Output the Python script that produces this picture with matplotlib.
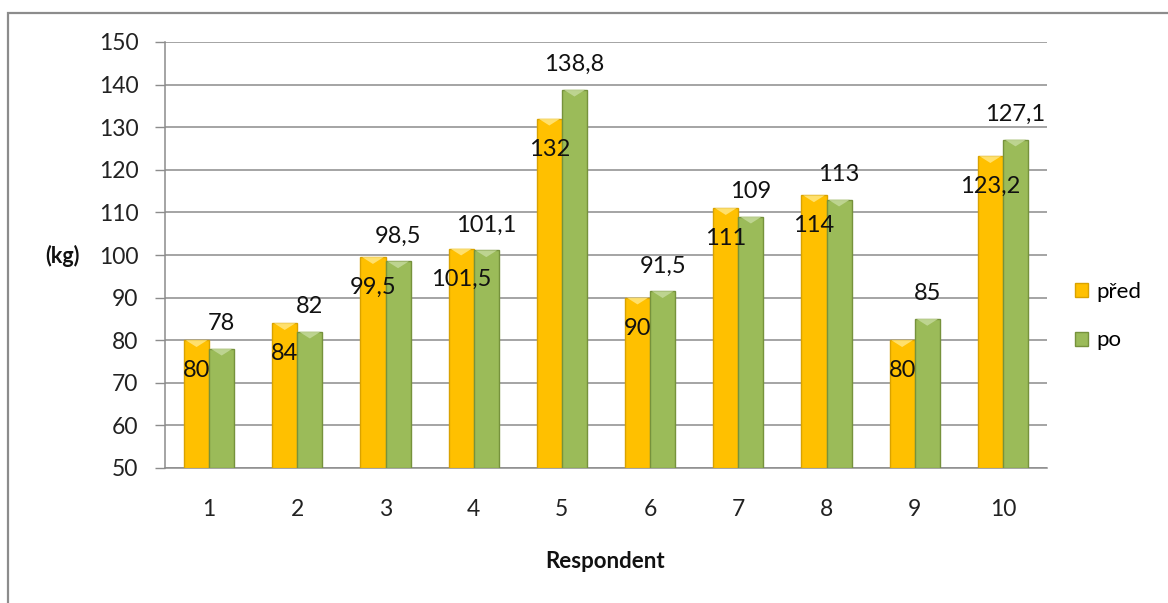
import matplotlib
matplotlib.use("Agg")
import matplotlib.pyplot as plt
from matplotlib.patches import Rectangle, Polygon
import numpy as np

categories = ["1", "2", "3", "4", "5", "6", "7", "8", "9", "10"]
pred = [80, 84, 99.5, 101.5, 132, 90, 111, 114, 80, 123.2]
po = [78, 82, 98.5, 101.1, 138.8, 91.5, 109, 113, 85, 127.1]
series_names = ["před", "po"]
yticks = [50, 60, 70, 80, 90, 100, 110, 120, 130, 140, 150]

FONT = ["Lato", "DejaVu Sans"]
plt.rcParams["font.family"] = FONT

W, H = 1168, 603
fig = plt.figure(figsize=(W / 100, H / 100), dpi=100)
ax = fig.add_axes([165 / W, 1 - 468 / H, (1047 - 165) / W, (468 - 42) / H])

# outer frame
fig.patches.append(Rectangle((8 / W, -0.2), 1.2, 1 - 13 / H + 0.2,
                             transform=fig.transFigure, fill=False,
                             edgecolor="#8c8c8c", linewidth=1.6))

x = np.arange(len(categories))
bw = 0.285
col_fill = ["#FFC000", "#9BBB59"]
col_edge = ["#D9A200", "#76923C"]
col_hi = ["#FFE680", "#C4D99A"]

def fmt(v):
    s = ("%g" % v)
    return s.replace(".", ",")

for i, (vals, off) in enumerate([(pred, -bw / 2), (po, bw / 2)]):
    bars = ax.bar(x + off, np.array(vals) - 50, bottom=50, width=bw,
                  color=col_fill[i], edgecolor=col_edge[i], linewidth=1.0,
                  zorder=3, label=series_names[i])
    for b in bars:
        x0 = b.get_x()
        x1 = x0 + b.get_width()
        top = b.get_y() + b.get_height()
        ax.add_patch(Polygon([(x0 + 0.02, top), (x1 - 0.02, top),
                              ((x0 + x1) / 2, top - 1.6)], closed=True,
                             facecolor=col_hi[i], edgecolor="none",
                             alpha=0.85, zorder=4))

for xi, v in zip(x, pred):
    ax.annotate(fmt(v), (xi - bw / 2, v), xytext=(0, -22), textcoords="offset points",
                ha="center", va="center", fontsize=17, color="#111111", zorder=5)
for xi, v in zip(x, po):
    ax.annotate(fmt(v), (xi + bw / 2, v), xytext=(0, 18), textcoords="offset points",
                ha="center", va="center", fontsize=17, color="#111111", zorder=5)

ax.set_xlim(-0.5, len(categories) - 0.5)
ax.set_ylim(50, 150)
ax.set_yticks(yticks)
ax.set_yticklabels([str(t) for t in yticks], fontsize=16.5, color="#222222")
ax.set_xticks(x)
ax.set_xticklabels(categories, fontsize=16.5, color="#222222")
ax.tick_params(axis="x", length=0, pad=22)
ax.tick_params(axis="y", length=7, width=1, color="#8c8c8c", pad=12)
ax.yaxis.grid(True, color="#8c8c8c", linewidth=1.1, zorder=0)
ax.set_axisbelow(True)
for s in ["top", "right"]:
    ax.spines[s].set_visible(False)
ax.spines["left"].set_color("#8c8c8c")
ax.spines["bottom"].set_color("#8c8c8c")
ax.spines["left"].set_linewidth(1.1)
ax.spines["bottom"].set_linewidth(1.1)

fig.text(62 / W, 1 - 256 / H, "(kg)", ha="center", va="center",
         fontsize=15.5, fontweight="bold", color="#111111")
fig.text(605 / W, 1 - 562 / H, "Respondent", ha="center", va="center",
         fontsize=16, fontweight="bold", color="#111111")

leg = fig.legend(loc="center left", bbox_to_anchor=(1075 / W, 1 - 316 / H), frameon=False,
                 fontsize=16, handlelength=0.6, handleheight=0.6,
                 handletextpad=0.35, labelspacing=1.3, borderaxespad=0, borderpad=0)

fig.savefig("out.png", dpi=100, facecolor="white")
